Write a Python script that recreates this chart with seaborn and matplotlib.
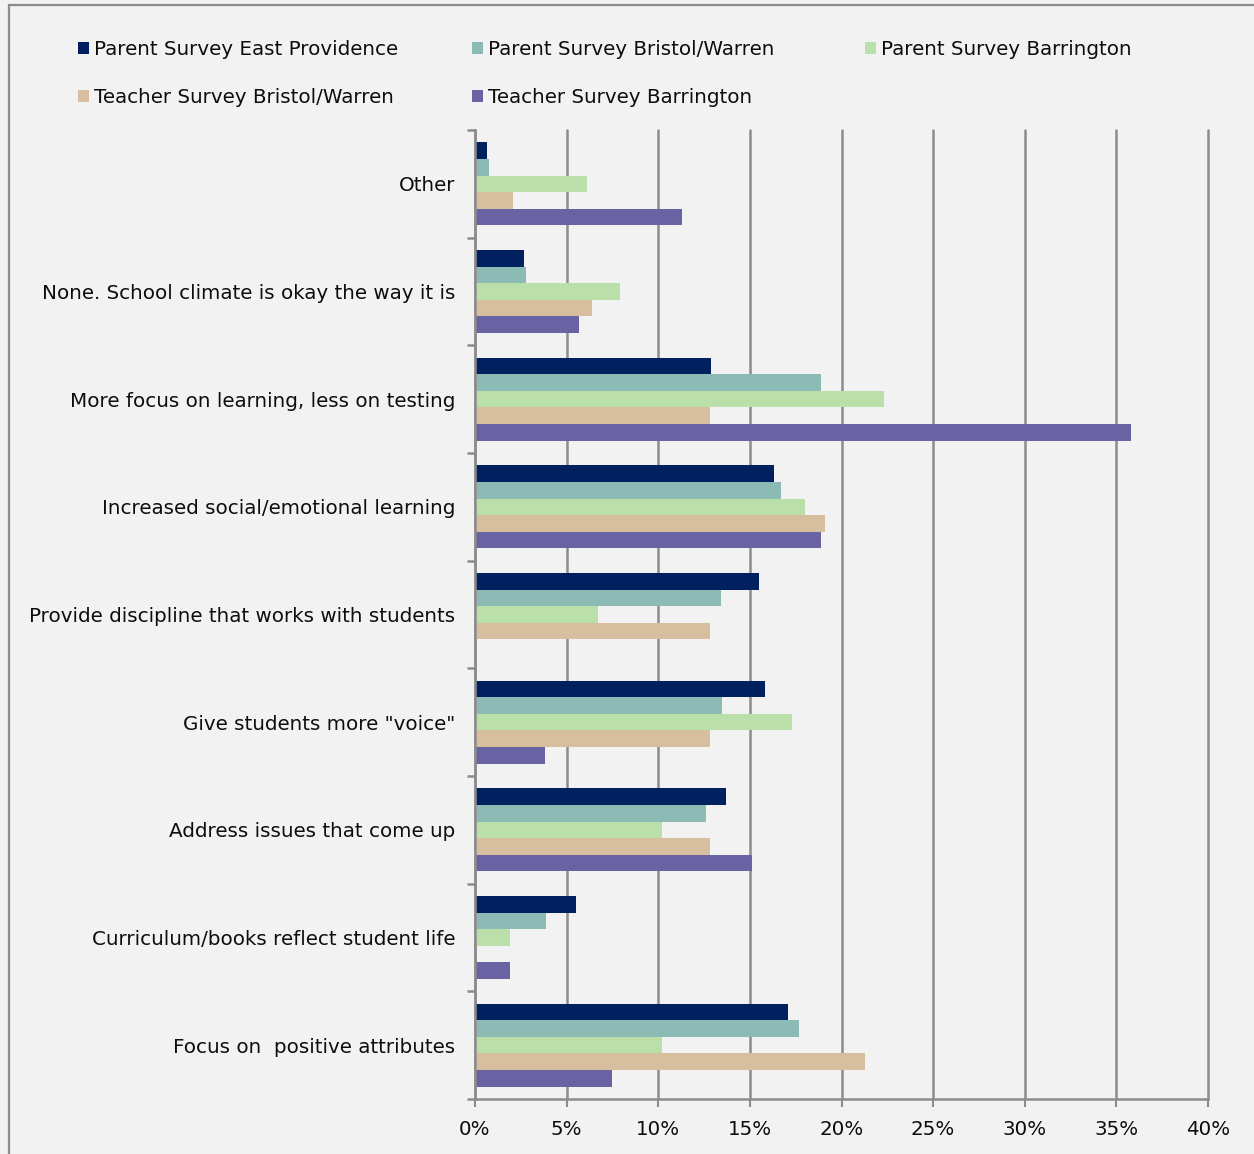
import matplotlib
matplotlib.use("Agg")
import matplotlib.pyplot as plt
import seaborn as sns
import pandas as pd
import numpy as np
from matplotlib.patches import Rectangle
from matplotlib.ticker import FixedLocator, PercentFormatter

categories = [
    "Other",
    "None. School climate is okay the way it is",
    "More focus on learning, less on testing",
    "Increased social/emotional learning",
    "Provide discipline that works with students",
    'Give students more "voice"',
    "Address issues that come up",
    "Curriculum/books reflect student life",
    "Focus on  positive attributes",
]
series_names = [
    "Parent Survey East Providence",
    "Parent Survey Bristol/Warren",
    "Parent Survey Barrington",
    "Teacher Survey Bristol/Warren",
    "Teacher Survey Barrington",
]
parent_east_providence = [0.65, 2.7, 12.9, 16.3, 15.5, 15.8, 13.7, 5.5, 17.1]
parent_bristol_warren = [0.75, 2.8, 18.9, 16.7, 13.4, 13.5, 12.6, 3.9, 17.7]
parent_barrington = [6.1, 7.9, 22.3, 18.0, 6.7, 17.3, 10.2, 1.9, 10.2]
teacher_bristol_warren = [2.1, 6.4, 12.8, 19.1, 12.8, 12.8, 12.8, 0.0, 21.3]
teacher_barrington = [11.3, 5.7, 35.8, 18.9, 0.0, 3.8, 15.1, 1.9, 7.5]
x_ticks = [0, 5, 10, 15, 20, 25, 30, 35, 40]

colors = ["#002060", "#8CBAB5", "#BBDFA8", "#D7BE9E", "#6963A4"]

all_values = [parent_east_providence, parent_bristol_warren, parent_barrington,
              teacher_bristol_warren, teacher_barrington]
rows = []
for name, vals in zip(series_names, all_values):
    for c, v in zip(categories, vals):
        rows.append({"Category": c, "Series": name, "Value": v})
df = pd.DataFrame(rows)

sns.set_theme(style="white")
plt.rcParams["font.family"] = ["DejaVu Sans"]
FS = 14.3
TXT = "#0d0d0d"

fig = plt.figure(figsize=(12.54, 11.54), dpi=100)
fig.patch.set_facecolor("#F2F2F2")
ax = fig.add_axes([475 / 1254, 1 - 1099 / 1154, (1208 - 475) / 1254, (1099 - 130) / 1154])
ax.set_facecolor("#F2F2F2")

sns.barplot(data=df, y="Category", x="Value", hue="Series", order=categories,
            hue_order=series_names, palette=colors, orient="h", width=0.77,
            linewidth=0, ax=ax, legend=True, saturation=1)

ax.set_xlim(0, 40)
ax.set_ylim(len(categories) - 0.5, -0.5)
ax.xaxis.set_major_locator(FixedLocator(x_ticks))
ax.xaxis.set_major_formatter(PercentFormatter(decimals=0))
ax.grid(axis="x", color="#8C8C8C", linewidth=1.8)
ax.grid(axis="y", visible=False)
for gl in ax.get_xgridlines():
    gl.set_clip_on(False)
ax.set_axisbelow(True)
ax.set_xlabel("")
ax.set_ylabel("")

for s in ["top", "right"]:
    ax.spines[s].set_visible(False)
for s in ["left", "bottom"]:
    ax.spines[s].set_visible(True)
    ax.spines[s].set_color("#8C8C8C")
    ax.spines[s].set_linewidth(1.8)

ax.tick_params(axis="y", which="major", length=0, pad=14, labelsize=FS, labelcolor=TXT)
ax.yaxis.set_minor_locator(FixedLocator(np.arange(-0.5, len(categories), 1.0)))
ax.tick_params(axis="y", which="minor", left=True, length=6, width=1.8, color="#8C8C8C")
ax.tick_params(axis="x", which="major", bottom=True, length=6, width=1.5, color="#8C8C8C",
               labelsize=FS, labelcolor=TXT, pad=9)

handles, labels = ax.get_legend_handles_labels()
ax.get_legend().remove()
columns = [[0, 3], [1, 4], [2]]
col_x = [78, 472, 865]
for idxs, x0 in zip(columns, col_x):
    fig.legend([handles[i] for i in idxs], [labels[i] for i in idxs],
               loc="upper left", bbox_to_anchor=(x0 / 1254, 1 - 40 / 1154), ncol=1,
               frameon=False, fontsize=FS, handlelength=0.55, handleheight=0.55,
               handletextpad=0.25, labelspacing=1.45, borderpad=0, borderaxespad=0,
               labelcolor=TXT)

fig.add_artist(Rectangle((9 / 1254, -0.05), 1.1, 1 - 5 / 1154 + 0.05,
                         transform=fig.transFigure, fill=False,
                         edgecolor="#8C8C8C", linewidth=1.6))

fig.savefig("out.png", dpi=100, facecolor=fig.get_facecolor())
